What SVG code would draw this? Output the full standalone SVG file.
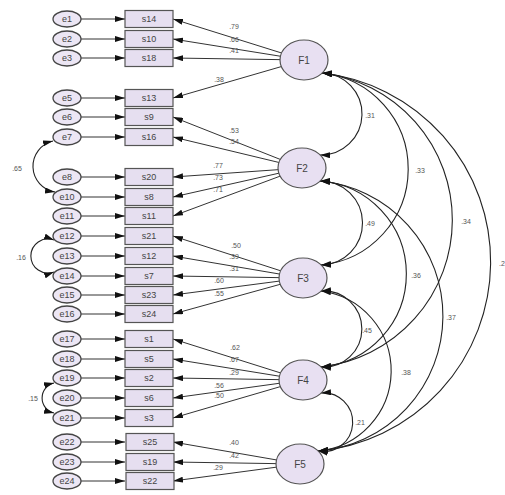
<svg xmlns="http://www.w3.org/2000/svg" width="505" height="495" viewBox="0 0 505 495">
<defs>
<marker id="ah" markerUnits="userSpaceOnUse" markerWidth="10" markerHeight="6" viewBox="0 0 10 6" refX="10" refY="3" orient="auto-start-reverse">
<path d="M0,0 L10,3 L0,6 z" fill="#111"/>
</marker>
<style>
.ln{stroke:#333;stroke-width:1;fill:none;marker-end:url(#ah)}
.cv{stroke:#222;stroke-width:1.1;fill:none;marker-start:url(#ah);marker-end:url(#ah)}
.err{fill:#ece6f4;stroke:#444;stroke-width:1.3}
.box{fill:#e6dff0;stroke:#555;stroke-width:1.2}
.fac{fill:#e8e0f2;stroke:#555;stroke-width:1.2}
.t{font-family:"Liberation Sans",Arial,sans-serif;font-size:9px;fill:#444;text-anchor:middle;dominant-baseline:central}
.tf{font-family:"Liberation Sans",Arial,sans-serif;font-size:10px;fill:#444;text-anchor:middle;dominant-baseline:central}
.lb{font-family:"Liberation Sans",Arial,sans-serif;font-size:7px;fill:#555;text-anchor:middle;dominant-baseline:central}
</style>
</defs>
<rect width="505" height="495" fill="#fff"/>
<g id="connectors">
<line class="ln" x1="81" y1="19" x2="125" y2="19"/>
<line class="ln" x1="81" y1="39" x2="125" y2="39"/>
<line class="ln" x1="81" y1="58" x2="125" y2="58"/>
<line class="ln" x1="81" y1="98" x2="125" y2="98"/>
<line class="ln" x1="81" y1="117" x2="125" y2="117"/>
<line class="ln" x1="81" y1="137" x2="125" y2="137"/>
<line class="ln" x1="81" y1="177" x2="125" y2="177"/>
<line class="ln" x1="81" y1="197" x2="125" y2="197"/>
<line class="ln" x1="81" y1="216" x2="125" y2="216"/>
<line class="ln" x1="81" y1="236" x2="125" y2="236"/>
<line class="ln" x1="81" y1="256" x2="125" y2="256"/>
<line class="ln" x1="81" y1="276" x2="125" y2="276"/>
<line class="ln" x1="81" y1="295" x2="125" y2="295"/>
<line class="ln" x1="81" y1="314" x2="125" y2="314"/>
<line class="ln" x1="81" y1="339" x2="125" y2="339"/>
<line class="ln" x1="81" y1="359" x2="125" y2="359"/>
<line class="ln" x1="81" y1="378" x2="125" y2="378"/>
<line class="ln" x1="81" y1="398" x2="125" y2="398"/>
<line class="ln" x1="81" y1="418" x2="125" y2="418"/>
<line class="ln" x1="81" y1="442" x2="125" y2="442"/>
<line class="ln" x1="81" y1="462" x2="125" y2="462"/>
<line class="ln" x1="81" y1="481" x2="125" y2="481"/>
<line class="ln" x1="304" y1="60" x2="173" y2="19"/>
<line class="ln" x1="304" y1="60" x2="173" y2="39"/>
<line class="ln" x1="304" y1="60" x2="173" y2="58"/>
<line class="ln" x1="304" y1="60" x2="173" y2="98"/>
<line class="ln" x1="302" y1="168" x2="173" y2="117"/>
<line class="ln" x1="302" y1="168" x2="173" y2="137"/>
<line class="ln" x1="302" y1="168" x2="173" y2="177"/>
<line class="ln" x1="302" y1="168" x2="173" y2="197"/>
<line class="ln" x1="302" y1="168" x2="173" y2="216"/>
<line class="ln" x1="303" y1="278" x2="173" y2="236"/>
<line class="ln" x1="303" y1="278" x2="173" y2="256"/>
<line class="ln" x1="303" y1="278" x2="173" y2="276"/>
<line class="ln" x1="303" y1="278" x2="173" y2="295"/>
<line class="ln" x1="303" y1="278" x2="173" y2="314"/>
<line class="ln" x1="303" y1="380" x2="173" y2="339"/>
<line class="ln" x1="303" y1="380" x2="173" y2="359"/>
<line class="ln" x1="303" y1="380" x2="173" y2="378"/>
<line class="ln" x1="303" y1="380" x2="173" y2="398"/>
<line class="ln" x1="303" y1="380" x2="173" y2="418"/>
<line class="ln" x1="300" y1="464" x2="173" y2="442"/>
<line class="ln" x1="300" y1="464" x2="173" y2="462"/>
<line class="ln" x1="300" y1="464" x2="173" y2="481"/>
<path class="cv" d="M322,73 A41,41 0 0 1 320,155"/>
<path class="cv" d="M322,73 A96.5,96.5 0 0 1 321,265"/>
<path class="cv" d="M322,73 A148,148 0 0 1 321,367"/>
<path class="cv" d="M322,73 A190,190 0 0 1 318,451"/>
<path class="cv" d="M320,181 A42,42 0 0 1 321,265"/>
<path class="cv" d="M320,181 A93.3,93.3 0 0 1 321,367"/>
<path class="cv" d="M320,181 A135.5,135.5 0 0 1 318,451"/>
<path class="cv" d="M321,291 A38.1,38.1 0 1 1 321,367"/>
<path class="cv" d="M321,291 A80.5,80.5 0 0 1 318,451"/>
<path class="cv" d="M321,393 A29.3,29.3 0 1 1 318,451"/>
<path class="cv" d="M53,141 A26,26 0 0 0 55,192"/>
<path class="cv" d="M54,240 A17.1,17.1 0 1 0 54,272"/>
<path class="cv" d="M54,383 A15.4,15.4 0 0 0 54,413"/>
<text class="lb" x="234" y="26">.79</text>
<text class="lb" x="234" y="39">.66</text>
<text class="lb" x="234" y="50">.41</text>
<text class="lb" x="219" y="79">.38</text>
<text class="lb" x="234" y="130">.53</text>
<text class="lb" x="234" y="141">.54</text>
<text class="lb" x="218" y="165">.77</text>
<text class="lb" x="218" y="177">.73</text>
<text class="lb" x="218" y="189">.71</text>
<text class="lb" x="236" y="245">.50</text>
<text class="lb" x="234" y="256">.39</text>
<text class="lb" x="234" y="268">.31</text>
<text class="lb" x="219" y="280">.60</text>
<text class="lb" x="219" y="293">.55</text>
<text class="lb" x="235" y="347">.62</text>
<text class="lb" x="234" y="359">.67</text>
<text class="lb" x="234" y="372">.29</text>
<text class="lb" x="219" y="385">.56</text>
<text class="lb" x="219" y="395">.50</text>
<text class="lb" x="234" y="442">.40</text>
<text class="lb" x="234" y="455">.42</text>
<text class="lb" x="218" y="467">.29</text>
<text class="lb" x="370" y="115">.31</text>
<text class="lb" x="420" y="170">.33</text>
<text class="lb" x="466" y="221">.34</text>
<text class="lb" x="502" y="263">.2</text>
<text class="lb" x="370" y="223">.49</text>
<text class="lb" x="416" y="275">.36</text>
<text class="lb" x="451" y="317">.37</text>
<text class="lb" x="367" y="330">.45</text>
<text class="lb" x="406" y="372">.38</text>
<text class="lb" x="360" y="422">.21</text>
<text class="lb" x="17" y="168">.65</text>
<text class="lb" x="21" y="257">.16</text>
<text class="lb" x="33" y="398">.15</text>
</g>
<g id="e1"><ellipse class="err" cx="67" cy="19" rx="14" ry="8"/><text class="t" x="67" y="19">e1</text></g>
<g id="e2"><ellipse class="err" cx="67" cy="39" rx="14" ry="8"/><text class="t" x="67" y="39">e2</text></g>
<g id="e3"><ellipse class="err" cx="67" cy="58" rx="14" ry="8"/><text class="t" x="67" y="58">e3</text></g>
<g id="e5"><ellipse class="err" cx="67" cy="98" rx="14" ry="8"/><text class="t" x="67" y="98">e5</text></g>
<g id="e6"><ellipse class="err" cx="67" cy="117" rx="14" ry="8"/><text class="t" x="67" y="117">e6</text></g>
<g id="e7"><ellipse class="err" cx="67" cy="137" rx="14" ry="8"/><text class="t" x="67" y="137">e7</text></g>
<g id="e8"><ellipse class="err" cx="67" cy="177" rx="14" ry="8"/><text class="t" x="67" y="177">e8</text></g>
<g id="e10"><ellipse class="err" cx="67" cy="197" rx="14" ry="8"/><text class="t" x="67" y="197">e10</text></g>
<g id="e11"><ellipse class="err" cx="67" cy="216" rx="14" ry="8"/><text class="t" x="67" y="216">e11</text></g>
<g id="e12"><ellipse class="err" cx="67" cy="236" rx="14" ry="8"/><text class="t" x="67" y="236">e12</text></g>
<g id="e13"><ellipse class="err" cx="67" cy="256" rx="14" ry="8"/><text class="t" x="67" y="256">e13</text></g>
<g id="e14"><ellipse class="err" cx="67" cy="276" rx="14" ry="8"/><text class="t" x="67" y="276">e14</text></g>
<g id="e15"><ellipse class="err" cx="67" cy="295" rx="14" ry="8"/><text class="t" x="67" y="295">e15</text></g>
<g id="e16"><ellipse class="err" cx="67" cy="314" rx="14" ry="8"/><text class="t" x="67" y="314">e16</text></g>
<g id="e17"><ellipse class="err" cx="67" cy="339" rx="14" ry="8"/><text class="t" x="67" y="339">e17</text></g>
<g id="e18"><ellipse class="err" cx="67" cy="359" rx="14" ry="8"/><text class="t" x="67" y="359">e18</text></g>
<g id="e19"><ellipse class="err" cx="67" cy="378" rx="14" ry="8"/><text class="t" x="67" y="378">e19</text></g>
<g id="e20"><ellipse class="err" cx="67" cy="398" rx="14" ry="8"/><text class="t" x="67" y="398">e20</text></g>
<g id="e21"><ellipse class="err" cx="67" cy="418" rx="14" ry="8"/><text class="t" x="67" y="418">e21</text></g>
<g id="e22"><ellipse class="err" cx="67" cy="442" rx="14" ry="8"/><text class="t" x="67" y="442">e22</text></g>
<g id="e23"><ellipse class="err" cx="67" cy="462" rx="14" ry="8"/><text class="t" x="67" y="462">e23</text></g>
<g id="e24"><ellipse class="err" cx="67" cy="481" rx="14" ry="8"/><text class="t" x="67" y="481">e24</text></g>
<g id="s14"><rect class="box" x="125" y="10.5" width="48" height="17"/><text class="t" x="149" y="19">s14</text></g>
<g id="s10"><rect class="box" x="125" y="30.5" width="48" height="17"/><text class="t" x="149" y="39">s10</text></g>
<g id="s18"><rect class="box" x="125" y="49.5" width="48" height="17"/><text class="t" x="149" y="58">s18</text></g>
<g id="s13"><rect class="box" x="125" y="89.5" width="48" height="17"/><text class="t" x="149" y="98">s13</text></g>
<g id="s9"><rect class="box" x="125" y="108.5" width="48" height="17"/><text class="t" x="149" y="117">s9</text></g>
<g id="s16"><rect class="box" x="125" y="128.5" width="48" height="17"/><text class="t" x="149" y="137">s16</text></g>
<g id="s20"><rect class="box" x="125" y="168.5" width="48" height="17"/><text class="t" x="149" y="177">s20</text></g>
<g id="s8"><rect class="box" x="125" y="188.5" width="48" height="17"/><text class="t" x="149" y="197">s8</text></g>
<g id="s11"><rect class="box" x="125" y="207.5" width="48" height="17"/><text class="t" x="149" y="216">s11</text></g>
<g id="s21"><rect class="box" x="125" y="227.5" width="48" height="17"/><text class="t" x="149" y="236">s21</text></g>
<g id="s12"><rect class="box" x="125" y="247.5" width="48" height="17"/><text class="t" x="149" y="256">s12</text></g>
<g id="s7"><rect class="box" x="125" y="267.5" width="48" height="17"/><text class="t" x="149" y="276">s7</text></g>
<g id="s23"><rect class="box" x="125" y="286.5" width="48" height="17"/><text class="t" x="149" y="295">s23</text></g>
<g id="s24"><rect class="box" x="125" y="305.5" width="48" height="17"/><text class="t" x="149" y="314">s24</text></g>
<g id="s1"><rect class="box" x="125" y="330.5" width="48" height="17"/><text class="t" x="149" y="339">s1</text></g>
<g id="s5"><rect class="box" x="125" y="350.5" width="48" height="17"/><text class="t" x="149" y="359">s5</text></g>
<g id="s2"><rect class="box" x="125" y="369.5" width="48" height="17"/><text class="t" x="149" y="378">s2</text></g>
<g id="s6"><rect class="box" x="125" y="389.5" width="48" height="17"/><text class="t" x="149" y="398">s6</text></g>
<g id="s3"><rect class="box" x="125" y="409.5" width="48" height="17"/><text class="t" x="149" y="418">s3</text></g>
<g id="s25"><rect class="box" x="126" y="433.5" width="48" height="17"/><text class="t" x="150" y="442">s25</text></g>
<g id="s19"><rect class="box" x="126" y="453.5" width="48" height="17"/><text class="t" x="150" y="462">s19</text></g>
<g id="s22"><rect class="box" x="126" y="472.5" width="48" height="17"/><text class="t" x="150" y="481">s22</text></g>
<g id="F1"><ellipse class="fac" cx="304" cy="60" rx="24" ry="20"/><text class="tf" x="304" y="60">F1</text></g>
<g id="F2"><ellipse class="fac" cx="302" cy="168" rx="24" ry="20"/><text class="tf" x="302" y="168">F2</text></g>
<g id="F3"><ellipse class="fac" cx="303" cy="278" rx="24" ry="20"/><text class="tf" x="303" y="278">F3</text></g>
<g id="F4"><ellipse class="fac" cx="303" cy="380" rx="24" ry="20"/><text class="tf" x="303" y="380">F4</text></g>
<g id="F5"><ellipse class="fac" cx="300" cy="464" rx="24" ry="20"/><text class="tf" x="300" y="464">F5</text></g>
</svg>
